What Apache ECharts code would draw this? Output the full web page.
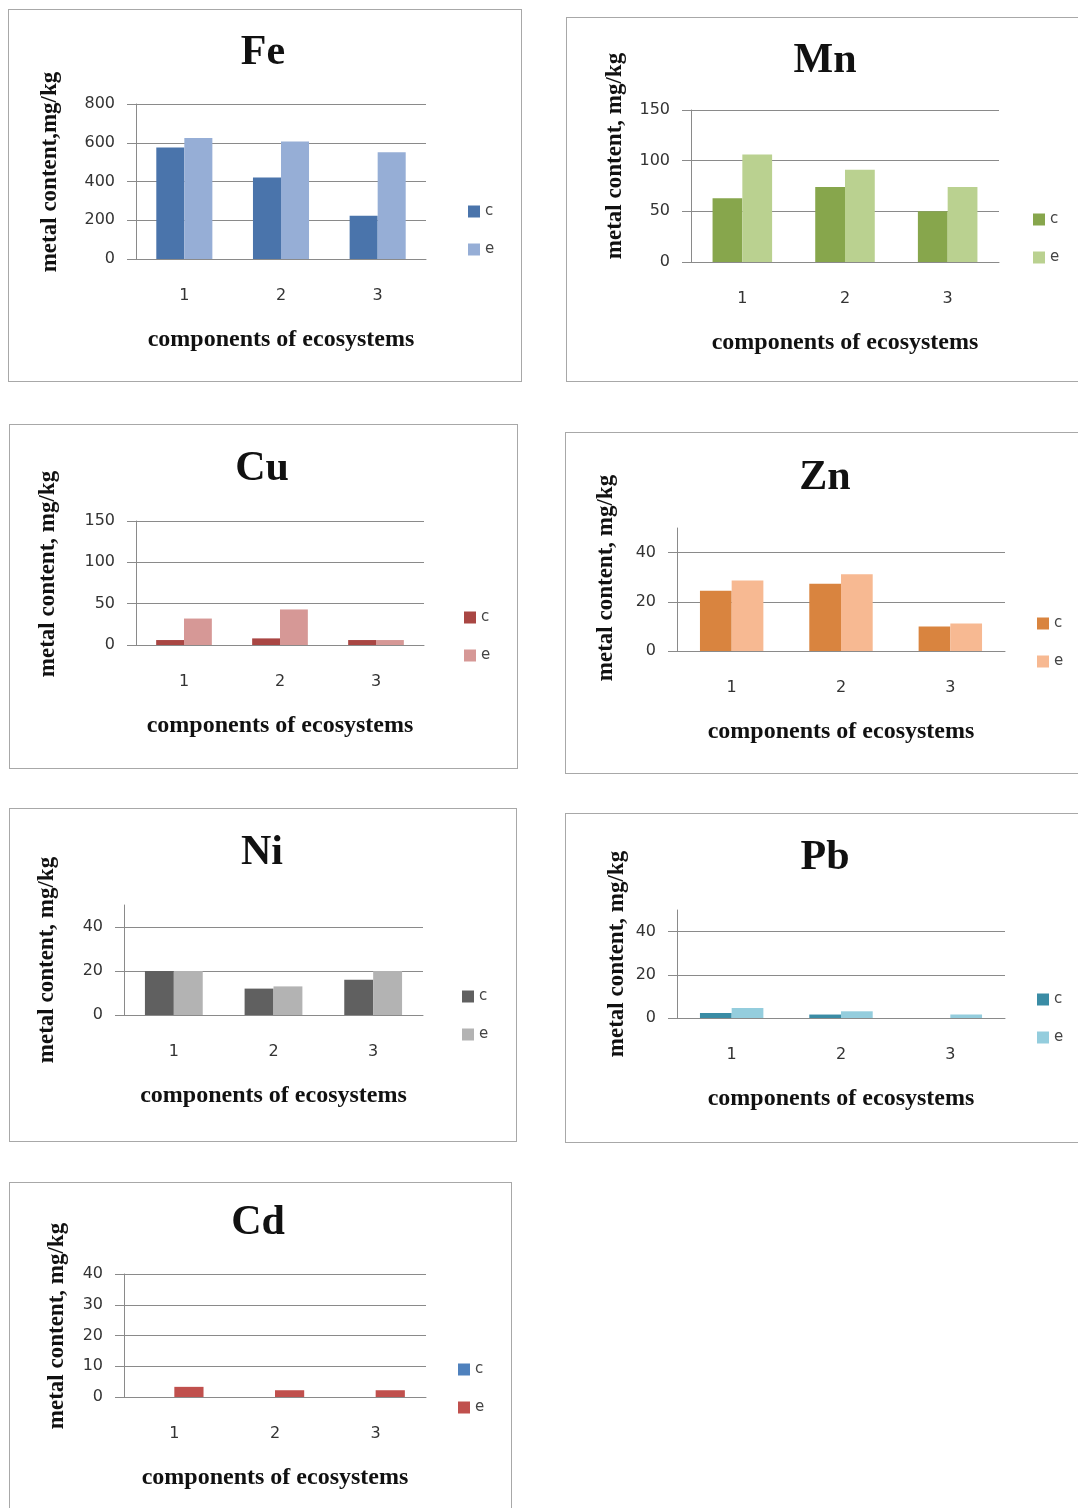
<!DOCTYPE html>
<html>
<head>
<meta charset="utf-8">
<script src="https://cdn.jsdelivr.net/npm/echarts@6/dist/echarts.min.js"></script>
<style>
  html, body { margin: 0; padding: 0; background: #ffffff; }
  body { width: 1078px; height: 1508px; position: relative; overflow: hidden; }
  .panel { position: absolute; box-sizing: border-box; border: 1px solid #a8a8a8; background: #fff; }
  .panel > div { position: absolute; left: -1px; top: -1px; }
</style>
</head>
<body>
<script>
// ---------------- DATA ----------------
const categories = ['1', '2', '3'];
const seriesNames = ['c', 'e'];
const metals = ['Fe', 'Mn', 'Cu', 'Zn', 'Ni', 'Pb', 'Cd'];
const yAxisTitles = ['metal content,mg/kg', 'metal content, mg/kg', 'metal content, mg/kg', 'metal content, mg/kg',
                     'metal content, mg/kg', 'metal content, mg/kg', 'metal content, mg/kg'];
const xAxisTitle = 'components of ecosystems';

const feC = [575, 421, 223];
const feE = [624, 606, 551];
const mnC = [63, 74, 50];
const mnE = [106, 91, 74];
const cuC = [6, 8, 6];
const cuE = [32, 43, 6];
const znC = [24.5, 27.3, 10];
const znE = [28.7, 31.2, 11.2];
const niC = [20, 12, 16];
const niE = [20, 13, 20];
const pbC = [2.3, 1.6, 0];
const pbE = [4.6, 3.1, 1.6];
const cdC = [0, 0, 0];
const cdE = [3.3, 2.2, 2.2];

// y-axis tick labels (shown values) and axis top
const feTicks = [0, 200, 400, 600, 800];
const mnTicks = [0, 50, 100, 150];
const cuTicks = [0, 50, 100, 150];
const znTicks = [0, 20, 40];
const niTicks = [0, 20, 40];
const pbTicks = [0, 20, 40];
const cdTicks = [0, 10, 20, 30, 40];
const axisTops = [800, 150, 150, 50, 50, 50, 40];

const seriesData = [[feC, feE], [mnC, mnE], [cuC, cuE], [znC, znE], [niC, niE], [pbC, pbE], [cdC, cdE]];
const tickSets = [feTicks, mnTicks, cuTicks, znTicks, niTicks, pbTicks, cdTicks];

// ---------------- STYLE / LAYOUT ----------------
const colors = [
  ['#4a74ab', '#96aed6'],
  ['#87a64c', '#bad190'],
  ['#a94643', '#d69896'],
  ['#d9843f', '#f7b992'],
  ['#606060', '#b3b3b3'],
  ['#3a8ca5', '#94cddd'],
  ['#4f81bd', '#c0504d']
];
// box: [left, top, width, height]; grid: [left, top, width, height] (relative to box)
const layouts = [
  { box: [8, 9, 514, 373],    grid: [128, 95, 290, 155],  title: [255, 44], yname: [42, 163], legend: [460, 195] },
  { box: [566, 17, 540, 365], grid: [125, 93, 308, 152],  title: [259, 44], yname: [49, 139], legend: [467, 195] },
  { box: [9, 424, 509, 345],  grid: [127, 97, 288, 124],  title: [253, 45], yname: [39, 150], legend: [455, 186] },
  { box: [565, 432, 540, 342],grid: [112, 96, 328, 123],  title: [260, 46], yname: [41, 146], legend: [472, 184] },
  { box: [9, 808, 508, 334],  grid: [115, 97, 299, 110],  title: [253, 45], yname: [38, 152], legend: [453, 181] },
  { box: [565, 813, 540, 330],grid: [112, 97, 328, 108],  title: [260, 45], yname: [52, 141], legend: [472, 179] },
  { box: [9, 1182, 503, 360], grid: [115, 92, 302, 123],  title: [249, 41], yname: [48, 144], legend: [449, 180] }
];

const GRID_COLOR = '#8a8a8a';
const SERIF = '"Liberation Serif", "Times New Roman", serif';
const SANS = '"DejaVu Sans", Verdana, sans-serif';

metals.forEach(function (metal, i) {
  const L = layouts[i];
  const panel = document.createElement('div');
  panel.className = 'panel';
  panel.style.left = L.box[0] + 'px';
  panel.style.top = L.box[1] + 'px';
  panel.style.width = L.box[2] + 'px';
  panel.style.height = L.box[3] + 'px';
  const inner = document.createElement('div');
  inner.style.width = L.box[2] + 'px';
  inner.style.height = L.box[3] + 'px';
  panel.appendChild(inner);
  document.body.appendChild(panel);

  const chart = echarts.init(inner, null, { renderer: 'canvas' });
  const ticks = tickSets[i];
  const step = ticks[1] - ticks[0];

  const option = {
    animation: false,
    backgroundColor: 'transparent',
    title: {
      text: metal,
      left: L.title[0], top: L.title[1],
      textAlign: 'center', textVerticalAlign: 'middle',
      padding: 0,
      textStyle: { fontFamily: SERIF, fontWeight: 'bold', fontSize: 42, color: '#111' }
    },
    legend: {
      orient: 'vertical',
      left: L.legend[0], top: L.legend[1],
      padding: 0,
      itemGap: 23,
      itemWidth: 12, itemHeight: 12,
      icon: 'rect',
      data: seriesNames,
      textStyle: { fontFamily: SANS, fontSize: 15, color: '#444' }
    },
    graphic: [{
      type: 'text',
      x: L.yname[0], y: L.yname[1],
      rotation: Math.PI / 2,
      style: {
        text: yAxisTitles[i],
        x: 0, y: 0,
        align: 'center', verticalAlign: 'middle',
        font: 'bold 23px ' + SERIF,
        fill: '#111'
      }
    }],
    grid: { left: L.grid[0], top: L.grid[1], width: L.grid[2], height: L.grid[3], containLabel: false },
    xAxis: {
      type: 'category',
      data: categories,
      axisLine: { show: true, lineStyle: { color: GRID_COLOR, width: 1 } },
      axisTick: { show: false },
      axisLabel: { margin: 29, fontFamily: SANS, fontSize: 16, color: '#333' },
      name: xAxisTitle,
      nameLocation: 'middle',
      nameGap: 69,
      nameTextStyle: { fontFamily: SERIF, fontWeight: 'bold', fontSize: 24, color: '#111' }
    },
    yAxis: {
      type: 'value',
      min: 0,
      max: axisTops[i],
      interval: step,
      axisLine: { show: true, lineStyle: { color: GRID_COLOR, width: 1 } },
      axisTick: { show: true, length: 9, lineStyle: { color: GRID_COLOR }, customValues: ticks },
      axisLabel: { margin: 21, fontFamily: SANS, fontSize: 16, color: '#333', customValues: ticks },
      splitLine: { show: true, lineStyle: { color: GRID_COLOR, width: 1 } }
    },
    series: seriesNames.map(function (name, k) {
      return {
        name: name,
        type: 'bar',
        data: seriesData[i][k],
        barGap: '0%',
        barCategoryGap: '42%',
        itemStyle: { color: colors[i][k] },
        emphasis: { disabled: true }
      };
    })
  };
  chart.setOption(option);
});
</script>
</body>
</html>
